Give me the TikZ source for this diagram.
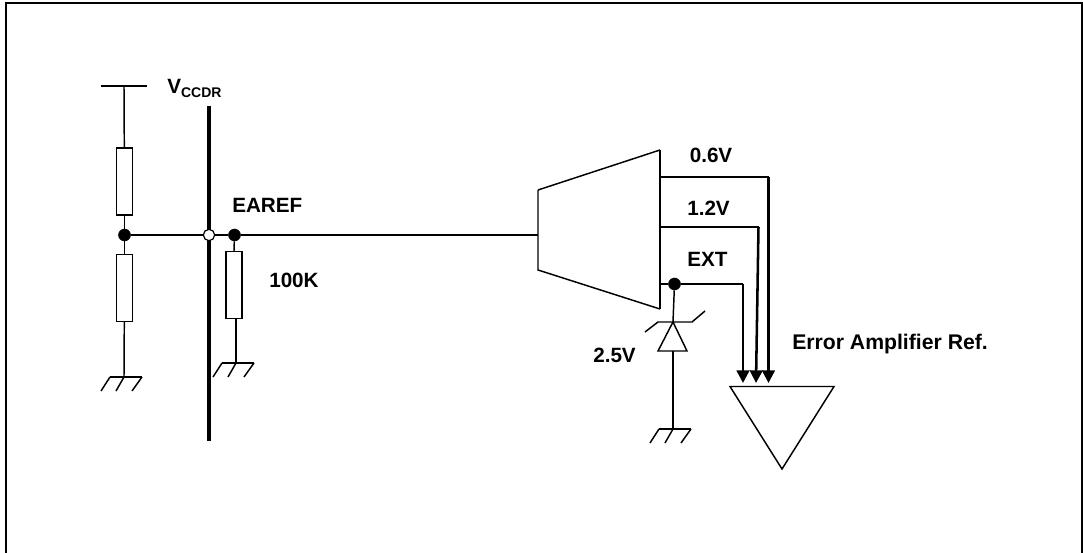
\documentclass[tikz,border=0pt]{standalone}
\usepackage{fontspec}
\setmainfont{Liberation Sans}
\usetikzlibrary{arrows.meta}
\tikzset{x=0.75pt,y=-0.75pt, % Reference pixels, y going down
every node/.style={font=\bfseries\fontsize{15.5}{18}\selectfont,inner sep=0pt},
wire/.style={draw,line width=1.1pt},
bus/.style={draw,line width=2.4pt},
route/.style={draw,line width=1.9pt,-{Triangle[width=9.5pt,length=9.5pt]}},
res/.style={draw,line width=1.1pt,fill=white,minimum width=12pt,minimum height=50pt},
dot/.style={circle,draw,fill=black,minimum size=9pt},
opendot/.style={circle,draw,line width=0.9pt,fill=white,minimum size=8.5pt},
gnd/.pic={ % Ground symbol, anchored at the middle of its bar
\draw[line width=1.1pt] (-14,0) -- (18,0);
\draw[line width=1.1pt] (-14,0) -- (-23,14);
\draw[line width=1.1pt] (0,0) -- (-8,14);
\draw[line width=1.1pt] (18,0) -- (8,14);}}
\begin{document}
\begin{tikzpicture}

    \useasboundingbox (0,0) rectangle (1083,553);
    \draw[line width=1.6pt] (6,553) -- (6,3) -- (1082,3) -- (1082,553);

    % Left divider
    \coordinate (vtop) at (124,86);
    \coordinate (vl) at (101,86);
    \coordinate (vr) at (147,86);
    \node[res] (r1) at (124.3,181.5) {};
    \node[res] (r2) at (124.3,288) {};
    \node[dot] (j1) at (124.5,235) {};
    \coordinate (g1) at (124,377);
    \draw[wire] (vl) -- (vr);
    \draw[wire] (vtop) -- (r1.north);
    \draw[wire] (r1.south) -- (r2.north);
    \draw[wire] (r2.south) -- (g1);
    \pic at (g1) {gnd};

    % Bus and EAREF line
    \coordinate (bustop) at (209,106);
    \coordinate (busbot) at (209,441);
    \draw[bus] (bustop) -- (busbot);
    \node[opendot] (j2) at (209,235) {};
    \node[dot] (j3) at (234.5,235) {};
    \node[res] (r3) at (234,285) {};
    \coordinate (g3) at (236,363);
    \draw[wire] (j1) -- (j2);
    \draw[wire] (j2) -- (j3);
    \draw[wire] (j3) -- (r3.north);
    \draw[wire] (r3.south -| g3) -- (g3);
    \pic at (g3) {gnd};

    % Selector
    \coordinate (ma) at (538,190);
    \coordinate (mb) at (660,150);
    \coordinate (mc) at (660,309);
    \coordinate (md) at (538,270);
    \coordinate (min) at (538,235);
    \draw[line width=1.1pt] (ma) -- (mb);
    \draw[line width=1.4pt] (mb) -- (mc);
    \draw[line width=1.1pt] (mc) -- (md) -- (ma);
    \draw[wire] (j3) -- (min);

    % Reference triangle
    \coordinate (ta) at (730,386.5);
    \coordinate (tb) at (834,386.5);
    \coordinate (tc) at (782,469);
    \draw[line width=1.1pt] (ta) -- (tb) -- (tc) -- cycle;

    % Selector outputs
    \coordinate (o1) at (660,177);
    \coordinate (o1a) at (768.5,177);
    \coordinate (t1) at (768.5,383);
    \coordinate (o2) at (660,227);
    \coordinate (o2a) at (758.5,227);
    \coordinate (t2) at (756,383);
    \node[dot] (j4) at (674.5,284) {};
    \coordinate (o3) at (660,284);
    \coordinate (o3a) at (743,284);
    \coordinate (t3) at (743,383);
    \draw[wire,line width=1.4pt] (o1) -- (o1a);
    \draw[wire] (o2) -- (o2a);
    \draw[wire] (o3) -- (j4);
    \draw[wire] (j4) -- (o3a);
    \draw[route] (o1a) -- (t1);
    \draw[route] (o2a) -- (t2);
    \draw[route] (o3a) -- (t3);

    % Zener
    \coordinate (zk) at (673,322);
    \coordinate (zl) at (658,351);
    \coordinate (zr) at (687,351);
    \coordinate (za) at (673,351);
    \coordinate (g4) at (673,429);
    \draw[wire] (j4) -- (zk);
    \draw[line width=1.1pt] (zk) -- (zl) -- (zr) -- cycle;
    \draw[line width=1.1pt] (645,332) -- (658,322) -- (692,322) -- (705,311);
    \draw[wire] (za) -- (g4);
    \pic at (g4) {gnd};

    % Labels
    \node[anchor=base west] (vccdr) at (167,93) {V\raisebox{-0.22em}{\fontsize{10.5}{13}\selectfont CCDR}};
    \node[anchor=base west] (earef) at (232,212) {EAREF};
    \node[anchor=base west] (rval) at (269,287) {100K};
    \node[anchor=base west] (v06) at (689.5,162) {0.6V};
    \node[anchor=base west] (v12) at (687,215) {1.2V};
    \node[anchor=base west] (vext) at (687,266) {EXT};
    \node[anchor=base west] (vz) at (593,362) {2.5V};
    \node[anchor=base west,font=\bfseries\fontsize{15.9}{18}\selectfont] (errref) at (792,349) {Error Amplifier Ref.};

\end{tikzpicture}
\end{document}
